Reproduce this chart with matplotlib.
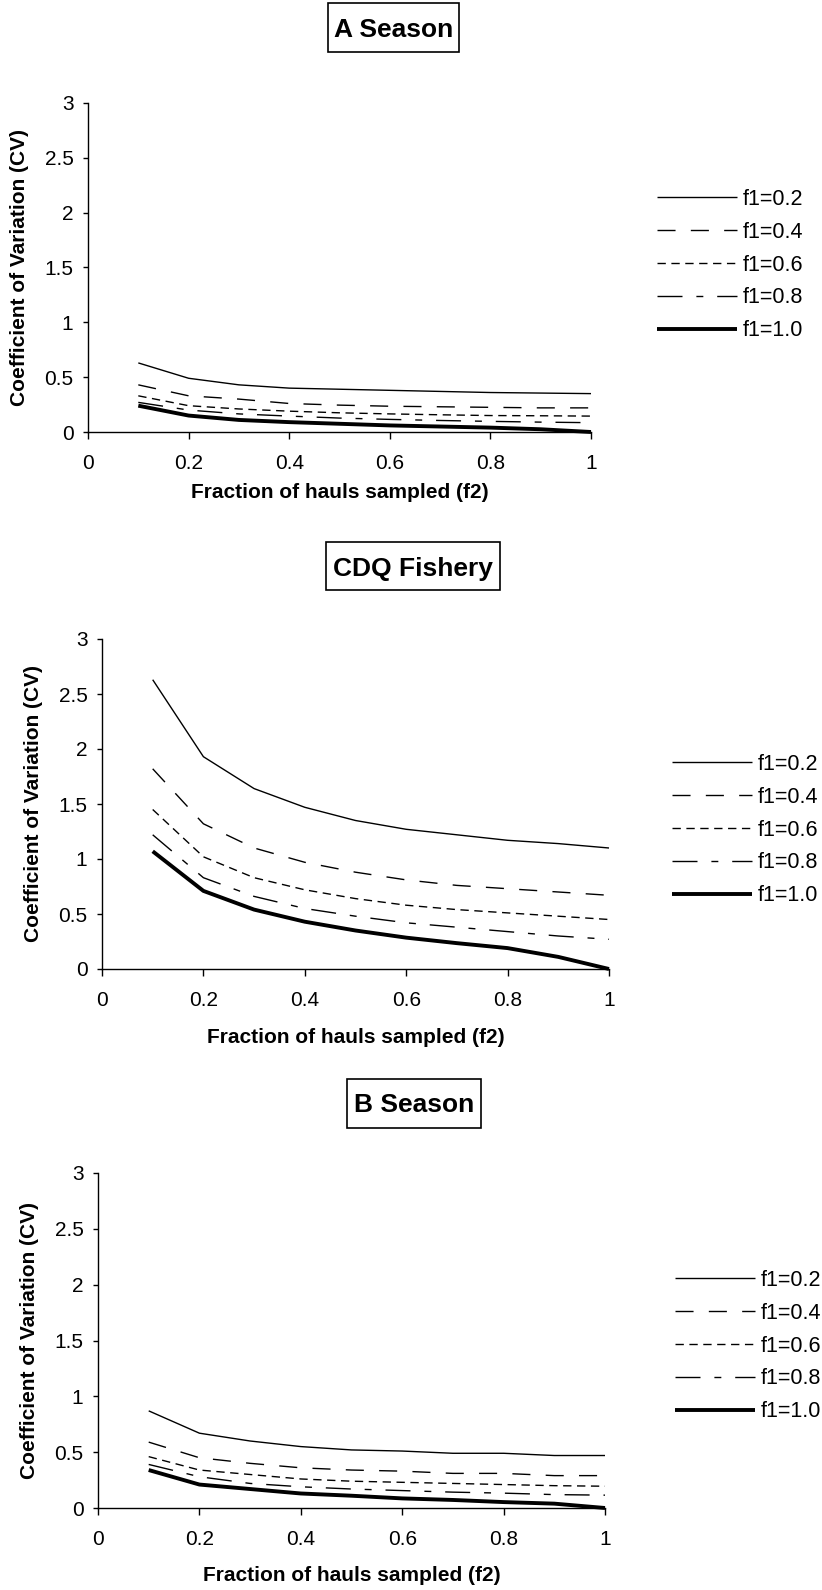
import matplotlib
matplotlib.use("Agg")
import matplotlib.pyplot as plt
from matplotlib.patches import Rectangle

plt.rcParams['font.family'] = ['Liberation Sans', 'DejaVu Sans']

f2 = [0.1, 0.2, 0.3, 0.4, 0.5, 0.6, 0.7, 0.8, 0.9, 1.0]
labels = ['f1=0.2', 'f1=0.4', 'f1=0.6', 'f1=0.8', 'f1=1.0']

# CV for each f1 value, one list per panel
cv_a = [
    [0.63, 0.49, 0.43, 0.40, 0.39, 0.38, 0.37, 0.36, 0.355, 0.35],
    [0.43, 0.33, 0.30, 0.26, 0.245, 0.235, 0.23, 0.225, 0.22, 0.22],
    [0.33, 0.24, 0.21, 0.19, 0.175, 0.165, 0.157, 0.15, 0.148, 0.145],
    [0.27, 0.20, 0.165, 0.145, 0.127, 0.115, 0.105, 0.097, 0.09, 0.085],
    [0.24, 0.15, 0.11, 0.09, 0.075, 0.06, 0.05, 0.04, 0.025, 0.0],
]
cv_cdq = [
    [2.63, 1.93, 1.64, 1.47, 1.35, 1.27, 1.22, 1.17, 1.14, 1.10],
    [1.82, 1.32, 1.10, 0.97, 0.88, 0.81, 0.76, 0.73, 0.70, 0.67],
    [1.45, 1.02, 0.83, 0.72, 0.64, 0.58, 0.54, 0.51, 0.48, 0.45],
    [1.22, 0.83, 0.66, 0.55, 0.48, 0.42, 0.38, 0.34, 0.30, 0.27],
    [1.07, 0.71, 0.54, 0.43, 0.35, 0.285, 0.235, 0.19, 0.11, 0.0],
]
cv_b = [
    [0.87, 0.67, 0.60, 0.55, 0.52, 0.51, 0.49, 0.49, 0.47, 0.47],
    [0.59, 0.45, 0.40, 0.36, 0.34, 0.33, 0.31, 0.31, 0.29, 0.29],
    [0.46, 0.34, 0.30, 0.26, 0.24, 0.23, 0.22, 0.21, 0.20, 0.195],
    [0.39, 0.28, 0.22, 0.19, 0.17, 0.156, 0.142, 0.133, 0.12, 0.115],
    [0.34, 0.21, 0.17, 0.13, 0.11, 0.086, 0.072, 0.053, 0.039, 0.0],
]

styles = [
    dict(lw=1.0, ls='-'),
    dict(lw=1.0, ls=(0, (13, 11))),
    dict(lw=1.0, ls=(0, (6, 4))),
    dict(lw=1.0, ls=(0, (18, 10, 5, 10))),
    dict(lw=2.8, ls='-'),
]

W, H = 822, 1590
fig = plt.figure(figsize=(W / 100, H / 100), dpi=100)

# title, data, axes box [left, top, right, bottom], title box [x0, y0, x1, y1],
# title baseline, legend (left, middle row), xlabel pad
panels = [
    ('A Season', cv_a, (88, 103, 591, 432), (328, 3, 459, 52), 37, (657, 265), 7),
    ('CDQ Fishery', cv_cdq, (102, 639, 609, 969), (326, 542, 500, 590), 576, (672, 830), 13),
    ('B Season', cv_b, (98, 1173, 605, 1508), (347, 1079, 481, 1128), 1112, (675, 1346), 12),
]

for title, data, (l, t, r, b), (bx0, by0, bx1, by1), ty, (lx, ly), xpad in panels:
    ax = fig.add_axes([l / W, 1 - b / H, (r - l) / W, (b - t) / H])
    for vals, lab, st in zip(data, labels, styles):
        ax.plot(f2, vals, color='black', label=lab, clip_on=False,
                solid_capstyle='butt', **st)
    ax.set_xlim(0, 1)
    ax.set_ylim(0, 3)
    ax.set_xticks([0, 0.2, 0.4, 0.6, 0.8, 1])
    ax.set_xticklabels(['0', '0.2', '0.4', '0.6', '0.8', '1'])
    ax.set_yticks([0, 0.5, 1, 1.5, 2, 2.5, 3])
    ax.set_yticklabels(['0', '0.5', '1', '1.5', '2', '2.5', '3'])
    ax.tick_params(axis='x', labelsize=15, length=5, width=1, pad=11)
    ax.tick_params(axis='y', labelsize=15, length=3.5, width=1, pad=7)
    for s in ['top', 'right']:
        ax.spines[s].set_visible(False)
    for s in ['left', 'bottom']:
        ax.spines[s].set_linewidth(1)
    ax.set_xlabel('Fraction of hauls sampled (f2)', fontsize=15,
                  fontweight='bold', labelpad=xpad)
    ax.set_ylabel('Coefficient of Variation (CV)', fontsize=15,
                  fontweight='bold', labelpad=11)

    # boxed panel title
    fig.patches.append(Rectangle((bx0 / W, 1 - by1 / H), (bx1 - bx0) / W,
                                 (by1 - by0) / H, transform=fig.transFigure,
                                 fill=False, ec='black', lw=1.2))
    fig.text((bx0 + bx1) / 2 / W, 1 - ty / H, title, fontsize=19,
             fontweight='bold', ha='center', va='baseline')

    fig.legend(*ax.get_legend_handles_labels(), loc='center left',
               bbox_to_anchor=(lx / W, 1 - ly / H), frameon=False,
               fontsize=15.5, handlelength=3.7, handletextpad=0.28,
               labelspacing=0.55, borderpad=0, borderaxespad=0)

fig.savefig('out.png', dpi=100)
